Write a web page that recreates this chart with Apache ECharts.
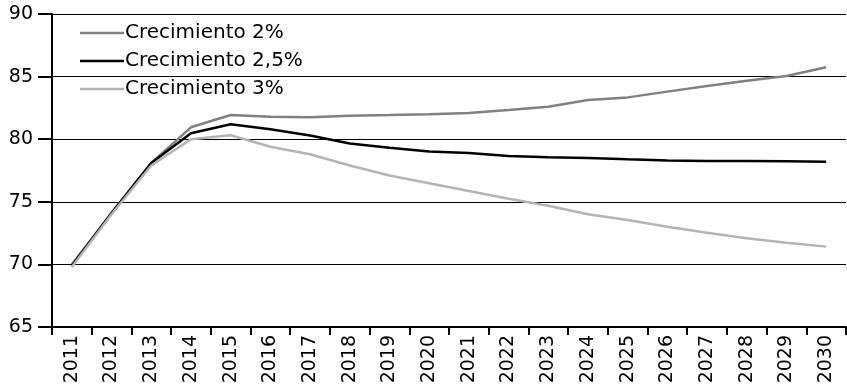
<!DOCTYPE html>
<html>
<head>
<meta charset="utf-8">
<script src="https://cdn.jsdelivr.net/npm/echarts@6/dist/echarts.min.js"></script>
<style>
  html, body { margin: 0; padding: 0; background: #fff; }
  #chart { width: 847px; height: 389px; }
</style>
</head>
<body>
<div id="chart"></div>
<script>
var years = ['2011','2012','2013','2014','2015','2016','2017','2018','2019','2020',
             '2021','2022','2023','2024','2025','2026','2027','2028','2029','2030'];
var crec2 = [70.0, 74.1, 78.1, 80.95, 81.93, 81.8, 81.75, 81.88, 81.93, 82.0,
             82.1, 82.33, 82.6, 83.13, 83.34, 83.8, 84.25, 84.67, 85.05, 85.74];
var crec25 = [69.9, 74.1, 78.1, 80.47, 81.19, 80.8, 80.3, 79.66, 79.31, 79.02,
              78.9, 78.66, 78.55, 78.5, 78.39, 78.29, 78.26, 78.26, 78.23, 78.2];
var crec3 = [69.8, 74.0, 77.9, 80.0, 80.31, 79.4, 78.8, 77.9, 77.1, 76.48,
             75.86, 75.25, 74.69, 74.0, 73.55, 73.0, 72.53, 72.08, 71.73, 71.42];
var seriesNames = ['Crecimiento 2%', 'Crecimiento 2,5%', 'Crecimiento 3%'];

var font = 'DejaVu Sans';
var myChart = echarts.init(document.getElementById('chart'));

function line(name, data, color) {
  return {
    name: name,
    type: 'line',
    data: data,
    symbol: 'none',
    lineStyle: { color: color, width: 2.5 },
    itemStyle: { color: color }
  };
}

var option = {
  animation: false,
  backgroundColor: '#fff',
  textStyle: { fontFamily: font, color: '#000' },
  legend: {
    orient: 'vertical',
    left: 80,
    top: 23,
    padding: 0,
    icon: 'rect',
    itemWidth: 44,
    itemHeight: 2.5,
    itemGap: 8,
    textStyle: { fontFamily: font, fontSize: 20, color: '#000', padding: [0, 0, 0, -4] },
    data: seriesNames
  },
  grid: { left: 52, right: 1, top: 14, bottom: 62 },
  xAxis: {
    type: 'category',
    data: years,
    boundaryGap: true,
    axisLine: { lineStyle: { color: '#000', width: 2 } },
    axisTick: { show: true, length: 8, lineStyle: { color: '#000', width: 2 } },
    axisLabel: { rotate: 90, margin: 8, fontSize: 19, color: '#000', fontFamily: font },
    splitLine: { show: false }
  },
  yAxis: {
    type: 'value',
    min: 65,
    max: 90,
    interval: 5,
    axisLine: { show: true, lineStyle: { color: '#000', width: 2 } },
    axisTick: { show: true, length: 14, lineStyle: { color: '#000', width: 2 } },
    axisLabel: { margin: 19, fontSize: 19, color: '#000', fontFamily: font },
    splitLine: { show: true, lineStyle: { color: '#000', width: 1 } }
  },
  series: [
    line(seriesNames[0], crec2, '#808080'),
    line(seriesNames[1], crec25, '#000000'),
    line(seriesNames[2], crec3, '#b4b4b4')
  ]
};
myChart.setOption(option);
window.addEventListener('resize', function () {
  myChart.resize();
});
</script>
</body>
</html>
